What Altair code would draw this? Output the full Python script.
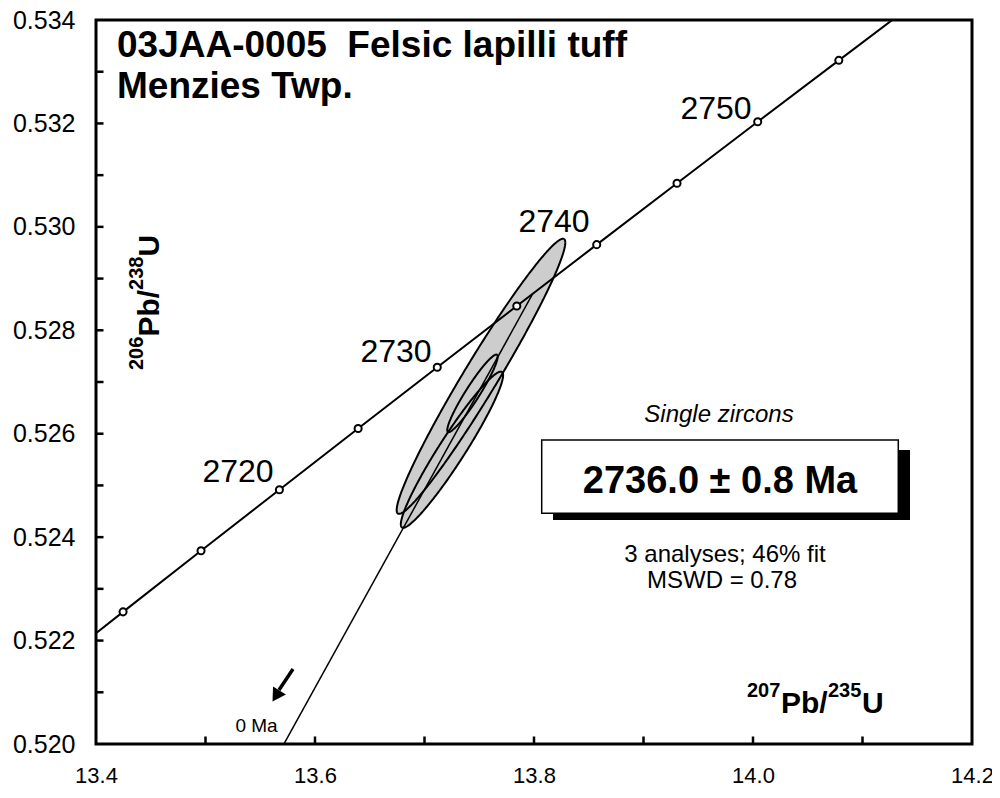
import math
import altair as alt
import pandas as pd

FONT = "Liberation Sans"

# ---- Concordia reference points (age in Ma, 207Pb/235U, 206Pb/238U) ----
conc_age = [2705, 2710, 2715, 2720, 2725, 2730, 2735, 2740, 2745, 2750, 2755, 2760]
conc_x = [13.353862, 13.424718, 13.495924, 13.567482, 13.639393, 13.711659,
          13.784282, 13.857263, 13.930604, 14.004307, 14.078375, 14.152808]
conc_y = [0.521375, 0.522555, 0.523736, 0.524918, 0.526101, 0.527285,
          0.528470, 0.529656, 0.530843, 0.532031, 0.533220, 0.534410]
marker_ages = [2710, 2715, 2720, 2725, 2730, 2735, 2740, 2745, 2750, 2755]

# ---- Discordia: lower intercept 0 Ma, upper intercept 2736.0 Ma ----
disc_x = [0.0, 13.79885]
disc_y = [0.0, 0.528707]

# ---- Analyses (2-sigma error ellipses) ----
ell_id = ["A", "B", "C"]
ell_x = [13.7516, 13.7438, 13.7251]
ell_y = [0.52711, 0.52678, 0.52569]
ell_ex = [0.0770, 0.0230, 0.0467]
ell_ey = [0.00266, 0.00075, 0.00151]
ell_rho = [0.972, 0.945, 0.954]

# ---- Axis ticks ----
x_labels = [13.4, 13.6, 13.8, 14.0, 14.2]
x_minor = [13.5, 13.6, 13.7, 13.8, 13.9, 14.0, 14.1]
y_labels = [0.520, 0.522, 0.524, 0.526, 0.528, 0.530, 0.532, 0.534]
y_minor = [0.521, 0.522, 0.523, 0.524, 0.525, 0.526, 0.527, 0.528,
           0.529, 0.530, 0.531, 0.532, 0.533]

W, H = 876, 724
OX, OY = 96, 20  # page position of plot origin

XS = alt.Scale(domain=[13.4, 14.2], nice=False, zero=False)
YS = alt.Scale(domain=[0.520, 0.534], nice=False, zero=False)
XAX = alt.Axis(values=x_labels, format=".1f", title=None, ticks=False, tickSize=0,
               domain=False, grid=False, labelFontSize=22, labelPadding=21,
               labelFlush=False, labelOverlap=False, labelColor="black", labelFont=FONT)
YAX = alt.Axis(values=y_labels, format=".3f", title=None, ticks=False, tickSize=0,
               domain=False, grid=False, labelFontSize=25, labelPadding=21,
               labelFlush=False, labelOverlap=False, labelColor="black", labelFont=FONT)


def X(f):
    return alt.X(f, type="quantitative", scale=XS, axis=XAX)


def Y(f):
    return alt.Y(f, type="quantitative", scale=YS, axis=YAX)


conc_df = pd.DataFrame({"age": conc_age, "x": conc_x, "y": conc_y})
mark_df = conc_df[conc_df["age"].isin(marker_ages)]
disc_df = pd.DataFrame({"k": [0, 1], "x": disc_x, "y": disc_y})

line_rows = []
N = 360
for i in range(len(ell_id)):
    cx, cy, ex, ey, r = ell_x[i], ell_y[i], ell_ex[i], ell_ey[i], ell_rho[i]
    s = math.sqrt(1 - r * r)
    for k in range(N + 1):
        t = 2 * math.pi * k / N
        line_rows.append({"id": ell_id[i], "k": k,
                          "x": cx + ex * math.cos(t),
                          "y": cy + ey * (r * math.cos(t) + s * math.sin(t))})
eline_df = pd.DataFrame(line_rows)

layers = []

# ellipse fills (closed, filled paths)
layers.append(alt.Chart(eline_df).mark_line(fill="#cdcdcd", stroke="#cdcdcd", strokeWidth=0.5,
                                            clip=True).encode(
    x=X("x"), y=Y("y"), detail="id:N", order="k:Q"))
# discordia
layers.append(alt.Chart(disc_df).mark_line(color="black", strokeWidth=1.5, clip=True).encode(
    x=X("x"), y=Y("y"), order="k:Q"))
# concordia
layers.append(alt.Chart(conc_df).mark_line(color="black", strokeWidth=2, clip=True).encode(
    x=X("x"), y=Y("y"), order="age:Q"))
# ellipse outlines
layers.append(alt.Chart(eline_df).mark_line(color="black", strokeWidth=2, clip=True).encode(
    x=X("x"), y=Y("y"), detail="id:N", order="k:Q"))
# concordia markers
layers.append(alt.Chart(mark_df).mark_point(shape="circle", filled=True, fill="white",
                                            stroke="black", strokeWidth=2, size=50,
                                            opacity=1).encode(x=X("x"), y=Y("y")))

# inward ticks
xt_df = pd.DataFrame({"v": x_minor})
yt_df = pd.DataFrame({"v": y_minor})
layers.append(alt.Chart(xt_df).mark_rule(color="black", strokeWidth=2.5).encode(
    x=X("v"), y=alt.value(H), y2=alt.value(H - 7.5)))
layers.append(alt.Chart(yt_df).mark_rule(color="black", strokeWidth=2.5).encode(
    y=Y("v"), x=alt.value(0), x2=alt.value(7.5)))

one = pd.DataFrame({"a": [0]})


def txt(text, px, py, size, weight="normal", style="normal", align="left", angle=0):
    return alt.Chart(one).mark_text(text=text, align=align, baseline="alphabetic",
                                    fontSize=size, fontWeight=weight, fontStyle=style,
                                    font=FONT, color="black", angle=angle).encode(
        x=alt.value(px - OX), y=alt.value(py - OY))


def rect(x1, y1, x2, y2, fill, stroke=None, sw=0):
    kw = dict(fill=fill)
    if stroke:
        kw.update(stroke=stroke, strokeWidth=sw)
    return alt.Chart(one).mark_rect(**kw).encode(
        x=alt.value(x1 - OX), x2=alt.value(x2 - OX), y=alt.value(y1 - OY), y2=alt.value(y2 - OY))


# title
layers.append(txt("03JAA-0005\u00a0\u00a0Felsic lapilli tuff", 117, 57, 37, weight="bold"))
layers.append(txt("Menzies Twp.", 117, 98, 37, weight="bold"))

# concordia age labels
for lab, px, py in [("2720", 238, 482), ("2730", 396, 362), ("2740", 554, 232), ("2750", 716, 119)]:
    layers.append(txt(lab, px, py, 32, align="center"))

# x-axis title 207Pb/235U
layers.append(txt("207", 747, 697, 20, weight="bold"))
layers.append(txt("Pb/", 781, 713, 30, weight="bold"))
layers.append(txt("235", 828, 697, 20, weight="bold"))
layers.append(txt("U", 862, 713, 30, weight="bold"))

# y-axis title 206Pb/238U (rotated)
layers.append(txt("206", 143, 370, 20, weight="bold", angle=270))
layers.append(txt("Pb/", 159, 336.6, 30, weight="bold", angle=270))
layers.append(txt("238", 143, 289.9, 20, weight="bold", angle=270))
layers.append(txt("U", 159, 256.5, 30, weight="bold", angle=270))

# result box
layers.append(txt("Single zircons", 719, 422, 24, style="italic", align="center"))
layers.append(rect(553, 450, 910, 520, "black"))
layers.append(rect(541.7, 440, 898.3, 513.3, "white", "black", 1.5))
layers.append(txt("2736.0 \u00b1 0.8 Ma", 720, 493, 38, weight="bold", align="center"))
layers.append(txt("3 analyses; 46% fit", 725, 562, 24, align="center"))
layers.append(txt("MSWD = 0.78", 722, 588, 24, align="center"))

# 0 Ma arrow
layers.append(alt.Chart(one).mark_rule(color="black", strokeWidth=3.5).encode(
    x=alt.value(293 - OX), x2=alt.value(279 - OX), y=alt.value(669 - OY), y2=alt.value(690 - OY)))
layers.append(alt.Chart(one).mark_point(shape="triangle-up", filled=True, color="black",
                                        size=230, opacity=1, angle=212).encode(
    x=alt.value(276 - OX), y=alt.value(696 - OY)))
layers.append(txt("0 Ma", 256.5, 731.7, 19, align="center"))

chart = alt.layer(*layers).properties(
    width=W, height=H,
    padding={"left": 88, "top": 12, "right": 20, "bottom": 46},
    autosize=alt.AutoSizeParams(type="none"),
    background="white",
).configure_view(stroke="black", strokeWidth=3)

chart.save("out.html", embed_options={"renderer": "svg", "actions": False})
